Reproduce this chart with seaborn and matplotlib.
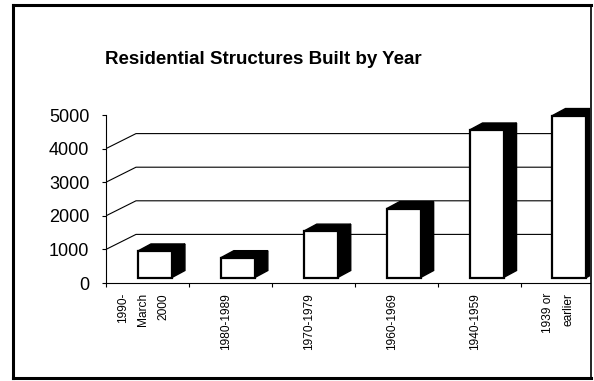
import numpy as np
import pandas as pd
import matplotlib
matplotlib.use("Agg")
import matplotlib.pyplot as plt
import seaborn as sns
from matplotlib.patches import Polygon
from matplotlib.lines import Line2D

# ---------------- data ----------------
categories = ["1990-\nMarch\n2000", "1980-1989", "1970-1979", "1960-1969",
              "1940-1959", "1939 or\nearlier"]
values = [790, 590, 1380, 2050, 4390, 4820]
ytick_values = [0, 1000, 2000, 3000, 4000, 5000]
ytick_labels = ["0", "1000", "2000", "3000", "4000", "5000"]
grid_values = [1000, 2000, 3000, 4000]
title = "Residential Structures Built by Year"

# ---------------- geometry ----------------
W, H, DPI = 594, 381, 100
sns.set_theme(style="white")
plt.rcParams['font.family'] = ['Liberation Sans', 'DejaVu Sans']

fig = plt.figure(figsize=(W / DPI, H / DPI), dpi=DPI)
fig.patch.set_facecolor("white")

x0_px, x1_px = 106, 590       # axes left / right (pixels)
floor_px, top_px = 283, 100   # floor line / axes top (pixels from top)
cat_px = 82.9                 # pixels per category
px_per_unit = (283 - 115) / 5000.0
ymax = (floor_px - top_px) / px_per_unit
xmax = -0.5 + (x1_px - x0_px) / cat_px

ax = fig.add_axes([x0_px / W, (H - floor_px) / H,
                   (x1_px - x0_px) / W, (floor_px - top_px) / H])
ax.set_facecolor("white")

df = pd.DataFrame({"period": categories, "count": values})
sns.barplot(data=df, x="period", y="count", order=categories, color="white",
            edgecolor="black", linewidth=1.6, width=0.41, ax=ax, zorder=4)

ax.set_xlim(-0.5, xmax)
ax.set_ylim(0, ymax)

front = np.array([7.5, 5.5])   # offset of bar fronts from front plane (px)
depth = np.array([13.0, 7.0])  # bar depth (px)
wall = np.array([30.0, 15.0])  # back wall offset (px)

toD = ax.transData
inv = ax.transData.inverted()

# back wall gridlines with diagonal connectors
for v in grid_values:
    p0 = toD.transform((-0.5, v))
    p1 = inv.transform(p0 + wall)
    ax.plot([-0.5, p1[0], xmax], [v, p1[1], p1[1]], color="black",
            lw=0.8, zorder=1, solid_capstyle="butt")

# 3D bar faces
for p in list(ax.patches):
    x, w, h = p.get_x(), p.get_width(), p.get_height()
    corners = toD.transform([(x, 0), (x + w, 0), (x + w, h), (x, h)]) + front
    BL, BR, TR, TL = corners
    bl = inv.transform(BL)
    tr = inv.transform(TR)
    p.set_xy(tuple(bl))
    p.set_width(tr[0] - bl[0])
    p.set_height(tr[1] - bl[1])
    side = inv.transform([BR, TR, TR + depth, BR + depth])
    topf = inv.transform([TL, TR, TR + depth, TL + depth])
    for poly in (side, topf):
        ax.add_patch(Polygon(poly, closed=True, facecolor="black",
                             edgecolor="black", lw=1.0, zorder=3))

# spines
for s in ["top", "right"]:
    ax.spines[s].set_visible(False)
for s in ["left", "bottom"]:
    ax.spines[s].set_color("black")
    ax.spines[s].set_linewidth(0.8)
ax.spines["left"].set_bounds(0, 5000)

# y ticks
ax.set_yticks(ytick_values)
ax.set_yticklabels(ytick_labels)
ax.tick_params(axis="y", left=True, length=3, width=0.8, color="black",
               pad=9, labelsize=13, labelcolor="black", direction="out")

# x ticks: labels at categories (slight shift), boundary ticks minor
ax.set_xticks([i - 4.0 / cat_px for i in range(len(categories))])
ax.set_xticklabels(categories)
ax.set_xticks([i - 0.5 for i in range(len(categories))], minor=True)
ax.tick_params(axis="x", which="major", length=0, pad=7.2, labelsize=8.6,
               labelcolor="black")
ax.tick_params(axis="x", which="minor", bottom=True, length=3, width=0.8,
               color="black", direction="out")
for lbl in ax.get_xticklabels():
    lbl.set_rotation(90)
    lbl.set_va("top")
    lbl.set_ha("center")
    lbl.set_multialignment("right")
    lbl.set_linespacing(1.9)
ax.set_xlabel("")
ax.set_ylabel("")

# title
fig.text(263 / W, 1 - 60 / H, title, ha="center", va="center",
         fontsize=13.5, fontweight="bold", color="black")

# outer frame
def fl(xs, ys, lw):
    fig.add_artist(Line2D([x / W for x in xs], [1 - y / H for y in ys],
                          transform=fig.transFigure, color="black", lw=lw,
                          solid_capstyle="projecting"))

fl([12.5, 590.5], [5, 5], 2.2)
fl([12.5, 590.5], [378, 378], 2.2)
fl([12.5, 12.5], [5, 378], 2.2)
fl([590.5, 590.5], [5, 378], 1.2)

fig.savefig("out.png", dpi=DPI, facecolor="white")
